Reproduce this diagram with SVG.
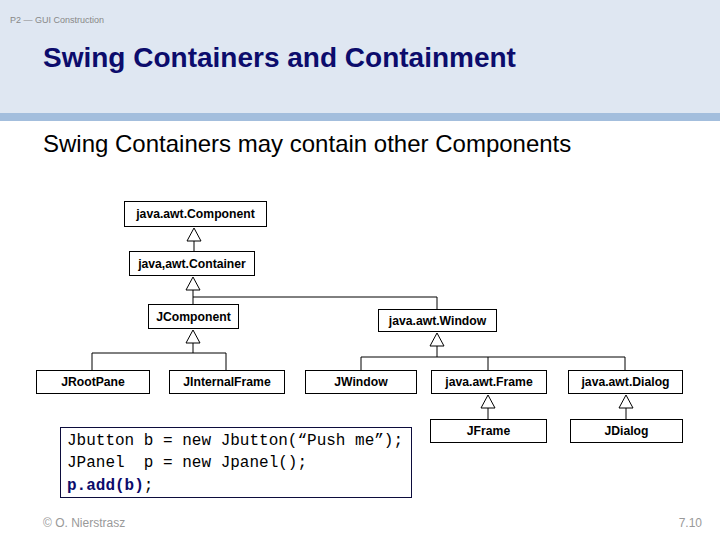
<svg xmlns="http://www.w3.org/2000/svg" width="720" height="540" viewBox="0 0 720 540">
<style>
.box{fill:#fff;stroke:#000;stroke-width:1}
.lbl{font-family:"Liberation Sans",Arial,sans-serif;font-size:12.2px;font-weight:bold;text-anchor:middle;fill:#000}
.ln{fill:none;stroke:#000;stroke-width:1}
.tri{fill:#fff;stroke:#000;stroke-width:1}
.code{font-family:"Liberation Mono","Courier New",monospace;font-size:16px;fill:#000}
</style>
<rect x="0" y="0" width="720" height="113" fill="#dfe7f2"/>
<rect x="0" y="113" width="720" height="8" fill="#a3bedd"/>
<text x="10" y="23" font-family="Liberation Sans,Arial,sans-serif" font-size="9" fill="#888">P2 — GUI Construction</text>
<text x="43" y="67" font-family="Liberation Sans,Arial,sans-serif" font-size="28" font-weight="bold" fill="#0c0c6c">Swing Containers and Containment</text>
<text x="43" y="152" font-family="Liberation Sans,Arial,sans-serif" font-size="24" fill="#000">Swing Containers may contain other Components</text>

<g id="connectors">
<path class="ln" d="M194,241 V251"/>
<path class="tri" d="M194,228 L187,241 L201,241 Z"/>
<path class="ln" d="M193,290 V304 M193,297 H437 V309"/>
<path class="tri" d="M193,277 L186,290 L200,290 Z"/>
<path class="ln" d="M193,343 V353 M92,353 H226 M92,353 V370 M226,353 V370"/>
<path class="tri" d="M193,330 L186,343 L200,343 Z"/>
<path class="ln" d="M437,346 V357 M361,357 H625 M361,357 V370 M488,357 V370 M625,357 V370"/>
<path class="tri" d="M437,333 L430,346 L444,346 Z"/>
<path class="ln" d="M488,408 V419"/>
<path class="tri" d="M488,395 L481,408 L495,408 Z"/>
<path class="ln" d="M626,408 V419"/>
<path class="tri" d="M626,395 L619,408 L633,408 Z"/>
</g>

<g id="component"><rect class="box" x="124.500" y="201.500" width="142" height="25"/><text class="lbl" x="195.500" y="218">java.awt.Component</text></g>
<g id="container"><rect class="box" x="129.500" y="251.500" width="125" height="24"/><text class="lbl" x="192" y="268">java,awt.Container</text></g>
<g id="jcomponent"><rect class="box" x="148.500" y="304.500" width="90" height="24"/><text class="lbl" x="193.500" y="321">JComponent</text></g>
<g id="window"><rect class="box" x="378.500" y="309.500" width="118" height="22"/><text class="lbl" x="437.500" y="325">java.awt.Window</text></g>
<g id="jrootpane"><rect class="box" x="36.500" y="370.500" width="113" height="23"/><text class="lbl" x="93" y="386">JRootPane</text></g>
<g id="jinternalframe"><rect class="box" x="169.500" y="370.500" width="115" height="23"/><text class="lbl" x="227" y="386">JInternalFrame</text></g>
<g id="jwindow"><rect class="box" x="305.500" y="370.500" width="111" height="23"/><text class="lbl" x="361" y="386">JWindow</text></g>
<g id="frame"><rect class="box" x="431.500" y="370.500" width="115" height="23"/><text class="lbl" x="489" y="386">java.awt.Frame</text></g>
<g id="dialog"><rect class="box" x="568.500" y="370.500" width="114" height="23"/><text class="lbl" x="625.500" y="386">java.awt.Dialog</text></g>
<g id="jframe"><rect class="box" x="430.500" y="419.500" width="116" height="23"/><text class="lbl" x="488.500" y="435">JFrame</text></g>
<g id="jdialog"><rect class="box" x="570.500" y="419.500" width="112" height="23"/><text class="lbl" x="626.500" y="435">JDialog</text></g>

<g id="code">
<rect x="60.500" y="427.500" width="351" height="70" fill="#fff" stroke="#0c0c3c" stroke-width="1"/>
<text class="code" x="67" y="445">Jbutton b = new Jbutton(“Push me”);</text>
<text class="code" x="67" y="467" xml:space="preserve">JPanel  p = new Jpanel();</text>
<text class="code" x="67" y="490"><tspan font-weight="bold" fill="#0c0c6c">p.add(b)</tspan>;</text>
</g>

<text x="43" y="527" font-family="Liberation Sans,Arial,sans-serif" font-size="12" fill="#999">© O. Nierstrasz</text>
<text x="702" y="527" font-family="Liberation Sans,Arial,sans-serif" font-size="12" fill="#999" text-anchor="end">7.10</text>
</svg>
